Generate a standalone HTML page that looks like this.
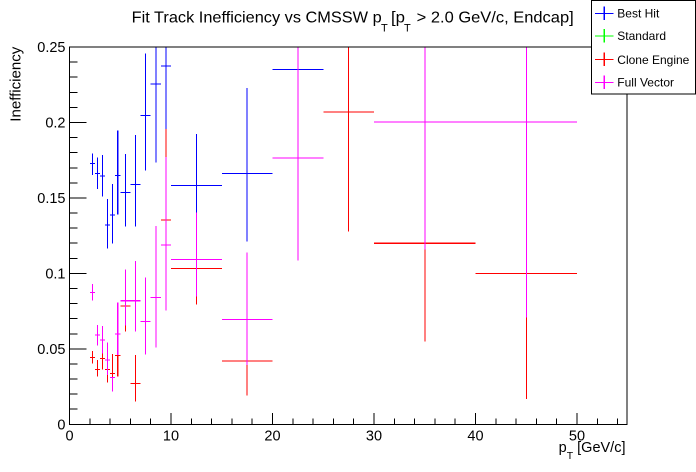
<!DOCTYPE html>
<html><head><meta charset="utf-8"><style>
html,body{margin:0;padding:0;background:#fff;}
svg{display:block;}
text{font-family:"Liberation Sans",Arial,sans-serif;fill:#000;}
</style></head><body>
<svg width="696" height="472" viewBox="0 0 696 472" xmlns="http://www.w3.org/2000/svg">
<rect x="0" y="0" width="696" height="472" fill="#fff"/>
<defs><clipPath id="fr"><rect x="69.5" y="47" width="557.5" height="377.5"/></clipPath></defs>

<!-- data -->
<g clip-path="url(#fr)" fill="none" stroke-width="1.1" shape-rendering="crispEdges">
<path stroke="#0000ff" d="
M89.8 163.3H94.9M92.3 153.3V175
M94.9 173.3H100M97.4 157.7V189
M100 176H105M102.5 155V196.7
M105 225H110.1M107.6 199V248.3
M110.1 215H115.2M112.6 184V243.3
M115.2 175.3H120.3M117.7 130.7V214.7
M120.3 192.3H130.4M125.3 154V226.7
M130.4 184.3H140.6M135.5 135V226.7
M140.6 115.3H150.7M145.6 53.3V170.7
M150.7 84H160.9M155.8 47V162.7
M160.9 66H171M165.9 47V140
M171 185.3H221.8M196.4 134V212.7
M221.8 173.3H272.5M247.1 88V241.7
M272.5 69.3H323.3M297.9 47V120"/>
<path stroke="#ff0000" d="
M89.8 357.5H94.9M92.3 351V363.5
M94.9 369.3H100M97.4 360V376.7
M100 358.3H105M102.5 350V369.3
M105 369.3H110.1M107.6 362V382.7
M110.1 373.3H115.2M112.6 354V382.7
M115.2 355.3H120.3M117.7 340V376.7
M120.3 306H130.4M125.3 285V331.7
M130.4 383.3H140.6M135.5 355V401.7
M160.9 220H171M165.9 129V290
M171 268.3H221.8M196.4 230V304.3
M221.8 361H272.5M247.1 300V395.3
M323.3 112H374M348.6 47V231.7
M374 243.2H475.5M424.8 200V341.7
M475.5 273.3H577M526.3 260V399"/>
<path stroke="#ff00ff" d="
M89.8 292.3H94.9M92.3 284V300.7
M94.9 335H100M97.4 325V345.7
M100 340H105M102.5 326V353.3
M105 360H110.1M107.6 342.7V375
M110.1 377.3H115.2M112.6 377.3V391.7
M115.2 334H120.3M117.7 302.7V355
M120.3 300.7H130.4M125.3 269.3V325.7
M130.4 300.7H140.6M135.5 261V331.7
M140.6 321.3H150.7M145.6 277.3V354.3
M150.7 297.3H160.9M155.8 226V347.7
M160.9 245H171M165.9 157V310.7
M171 259.3H221.8M196.4 212.7V296.7
M221.8 319.3H272.5M247.1 252.7V365
M272.5 158H323.3M297.9 47V260.7
M374 122H475.5M424.8 47V249.3
M475.5 122H577M526.3 47V317.3"/>
</g>

<!-- frame & ticks -->
<g stroke="#000" stroke-width="1" fill="none" shape-rendering="crispEdges">
<rect x="69.5" y="47" width="557.5" height="377.5"/>
<path d="
M69.5 424.5H86.5M69.5 348.85H86.5M69.5 273.4H86.5M69.5 197.95H86.5M69.5 122.5H86.5M69.5 47H86.5
M69.5 409.2H77.5M69.5 394.1H77.5M69.5 379H77.5M69.5 363.9H77.5
M69.5 333.8H77.5M69.5 318.7H77.5M69.5 303.6H77.5M69.5 288.5H77.5
M69.5 258.3H77.5M69.5 243.2H77.5M69.5 228.1H77.5M69.5 213H77.5
M69.5 182.9H77.5M69.5 167.8H77.5M69.5 152.7H77.5M69.5 137.6H77.5
M69.5 107.4H77.5M69.5 92.3H77.5M69.5 77.2H77.5M69.5 62.1H77.5
M69.5 424.5V413M171 424.5V413M272.5 424.5V413M374 424.5V413M475.5 424.5V413M577 424.5V413
M89.8 424.5V418.5M110.1 424.5V418.5M130.4 424.5V418.5M150.7 424.5V418.5
M191.3 424.5V418.5M211.6 424.5V418.5M231.9 424.5V418.5M252.2 424.5V418.5
M292.8 424.5V418.5M313.1 424.5V418.5M333.4 424.5V418.5M353.7 424.5V418.5
M394.3 424.5V418.5M414.6 424.5V418.5M434.9 424.5V418.5M455.2 424.5V418.5
M495.8 424.5V418.5M516.1 424.5V418.5M536.4 424.5V418.5M556.7 424.5V418.5
M597.3 424.5V418.5M617.6 424.5V418.5"/>
</g>

<!-- y labels -->
<g font-size="14.5" text-anchor="end">
<text x="65.5" y="429.5">0</text>
<text x="65.5" y="354">0.05</text>
<text x="65.5" y="278.5">0.1</text>
<text x="65.5" y="203">0.15</text>
<text x="65.5" y="127.5">0.2</text>
<text x="65.5" y="52">0.25</text>
</g>
<!-- x labels -->
<g font-size="14.5" text-anchor="middle">
<text x="69.5" y="440.5">0</text>
<text x="171" y="440.5">10</text>
<text x="272.5" y="440.5">20</text>
<text x="374" y="440.5">30</text>
<text x="475.5" y="440.5">40</text>
<text x="577" y="440.5">50</text>
</g>

<!-- axis titles -->
<text x="625.5" y="452" font-size="14.5" text-anchor="end">p<tspan font-size="10.5" dy="7">T</tspan><tspan dy="-7"> [GeV/c]</tspan></text>
<text transform="translate(20.7,46.7) rotate(-90)" font-size="14.5" text-anchor="end" textLength="75" lengthAdjust="spacingAndGlyphs">Inefficiency</text>

<!-- title -->
<text x="131.7" y="22.5" font-size="16" textLength="250" lengthAdjust="spacingAndGlyphs">Fit Track Inefficiency vs CMSSW p</text>
<text x="381" y="31.5" font-size="11">T</text>
<text x="391" y="22.5" font-size="16" textLength="14" lengthAdjust="spacingAndGlyphs">[p</text>
<text x="404" y="31.5" font-size="11">T</text>
<text x="416.7" y="22.5" font-size="16" textLength="157" lengthAdjust="spacingAndGlyphs">&gt; 2.0 GeV/c, Endcap]</text>

<!-- legend -->
<rect x="591.5" y="0.5" width="104" height="93.5" fill="#fff" stroke="#000" stroke-width="1" shape-rendering="crispEdges"/>
<g stroke-width="1.1" shape-rendering="crispEdges" fill="none">
<path stroke="#0000ff" d="M595 13.3H613.5M604.2 6.5V20"/>
<path stroke="#00ff00" d="M595 35.8H613.5M604.2 29V42.5"/>
<path stroke="#ff0000" d="M595 59.5H613.5M604.2 52.7V66.2"/>
<path stroke="#ff00ff" d="M595 82.3H613.5M604.2 75.5V89"/>
</g>
<g font-size="12">
<text x="617.3" y="17.6">Best Hit</text>
<text x="617.3" y="40.1">Standard</text>
<text x="617.3" y="63.8">Clone Engine</text>
<text x="617.3" y="86.6">Full Vector</text>
</g>
</svg>
</body></html>
